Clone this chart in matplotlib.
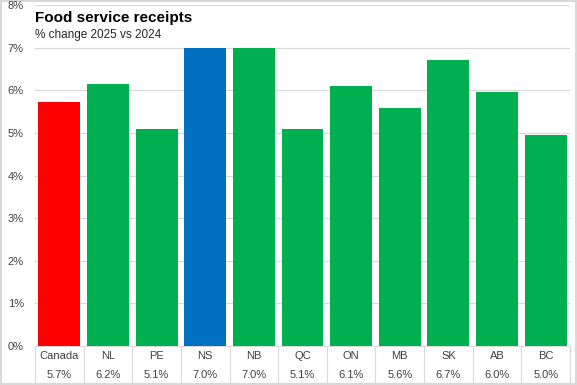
import matplotlib.pyplot as plt
import matplotlib.transforms as mtransforms
from matplotlib.ticker import FuncFormatter

# ── Data ─────────────────────────────────────────────────────────
regions = ['Canada', 'NL', 'PE', 'NS', 'NB', 'QC', 'ON', 'MB', 'SK', 'AB', 'BC']
values = [5.73, 6.15, 5.08, 7.0, 7.0, 5.08, 6.1, 5.58, 6.7, 5.95, 4.95]
labels = ['5.7%', '6.2%', '5.1%', '7.0%', '7.0%', '5.1%', '6.1%', '5.6%', '6.7%', '6.0%', '5.0%']

# ── Style ────────────────────────────────────────────────────────
red = '#FF0000'
green = '#00B050'
blue = '#0070C0'
grid_color = '#D9D9D9'
text_color = '#404040'
colors = [red] + [green] * 2 + [blue] + [green] * 7

plt.rcParams['font.family'] = ['Liberation Sans', 'DejaVu Sans']

fig = plt.figure(figsize=(5.77, 3.85), dpi=100)
fig.patch.set_edgecolor(grid_color)
fig.patch.set_linewidth(1.5)
ax = fig.add_axes([35 / 577, 39 / 385, 535 / 577, 341 / 385])

x = list(range(len(regions)))
ax.bar(x, values, width=0.86, color=colors, zorder=3)

ax.set_xlim(-0.5, len(regions) - 0.5)
ax.set_ylim(0, 8)
ax.set_yticks(range(0, 9))
ax.yaxis.set_major_formatter(FuncFormatter(lambda v, _: f'{int(v)}%'))
ax.tick_params(axis='y', length=0, labelsize=8, labelcolor=text_color, pad=8)
ax.set_xticks([])
ax.grid(axis='y', color=grid_color, linewidth=0.8, zorder=0)
for s in ['top', 'right', 'left']:
    ax.spines[s].set_visible(False)
ax.spines['bottom'].set_color(grid_color)

# ── Data table under the axis ───────────────────────────────────
trans = mtransforms.blended_transform_factory(ax.transData, fig.transFigure)
row1 = 1 - 356 / 385
row2 = 1 - 375 / 385
bottom = 1 - 383 / 385
top = 39 / 385
for i, (r, lab) in enumerate(zip(regions, labels)):
    ax.text(i, row1, r, transform=trans, ha='center', va='center',
            fontsize=8, color=text_color)
    ax.text(i, row2, lab, transform=trans, ha='center', va='center',
            fontsize=8, color=text_color)
for b in [i - 0.5 for i in range(len(regions) + 1)]:
    ax.plot([b, b], [bottom, top], transform=trans, color=grid_color,
            linewidth=0.8, clip_on=False)
ax.plot([-0.5, len(regions) - 0.5], [bottom, bottom], transform=trans,
        color=grid_color, linewidth=0.8, clip_on=False)

# ── Title ───────────────────────────────────────────────────────
fig.text(35 / 577, 1 - 18 / 385, 'Food service receipts', fontsize=11,
         fontweight='bold', color='black', va='center', ha='left')
fig.text(35 / 577, 1 - 35 / 385, '% change 2025 vs 2024', fontsize=8.5,
         color='#262626', va='center', ha='left')

fig.savefig('out.png', dpi=100, facecolor='white', edgecolor=grid_color)
